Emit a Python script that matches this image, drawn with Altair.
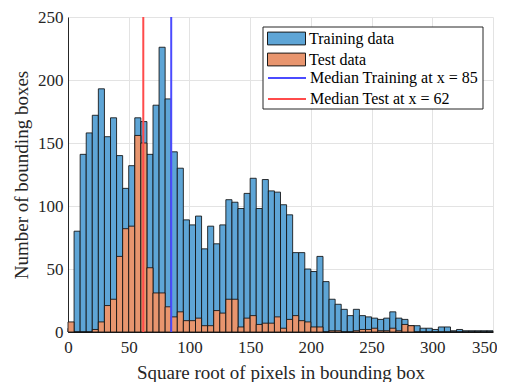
import altair as alt
import pandas as pd

bin_width = 5
train_counts = [3, 80, 141, 158, 172, 193, 155, 170, 140, 114,
                132, 170, 167, 141, 180, 226, 185, 143, 130, 89,
                85, 92, 66, 84, 70, 85, 105, 103, 98, 110,
                122, 98, 121, 112, 111, 101, 93, 63, 63, 50,
                48, 60, 40, 26, 22, 18, 13, 18, 13, 12,
                11, 10, 11, 16, 11, 10, 5, 5, 3, 3,
                2, 4, 4, 1, 2, 1, 1, 1, 1, 1]
test_counts = [8, 0, 0, 0, 2, 8, 21, 26, 60, 82,
               84, 156, 150, 51, 31, 31, 20, 12, 16, 9,
               9, 11, 5, 5, 17, 15, 26, 26, 4, 11,
               13, 6, 7, 7, 12, 3, 10, 13, 9, 8,
               4, 4, 0, 1, 1, 0, 0, 1, 2, 2,
               3, 1, 1, 3, 1, 6, 5, 0, 0, 0,
               0, 0, 0, 0, 0, 0, 0, 0, 0, 0]
series_names = ["Training data", "Test data"]
median_values = [85, 62]
median_names = ["Median Training at x = 85", "Median Test at x = 62"]
x_ticks = [0, 50, 100, 150, 200, 250, 300, 350]
y_ticks = [0, 50, 100, 150, 200, 250]

FONT = "Liberation Serif"
TXT = "#262626"

starts = [i * bin_width for i in range(len(train_counts))]
ends = [s + bin_width for s in starts]
train_df = pd.DataFrame({"start": starts, "end": ends, "count": train_counts,
                         "series": series_names[0]})
test_df = pd.DataFrame({"start": starts, "end": ends, "count": test_counts,
                        "series": series_names[1]})
med_df = pd.DataFrame({"x": median_values, "name": median_names})
box_df = pd.DataFrame({"k": [0]})

fill_scale = alt.Scale(domain=series_names, range=["#5EA5D6", "#E8956E"])
stroke_scale = alt.Scale(domain=median_names, range=["#4B4BFF", "#FF4B4B"])

x_scale = alt.Scale(domain=[0, 350], nice=False, zero=False, padding=0)
y_scale = alt.Scale(domain=[0, 250], nice=False, padding=0)

last_tick = "datum.value == %d" % x_ticks[-1]
x_axis = alt.Axis(values=x_ticks, title="Square root of pixels in bounding box",
                  grid=True, ticks=False, labelPadding=7, labelFlush=False,
                  labelAlign={"condition": {"test": last_tick, "value": "right"},
                              "value": "center"},
                  labelOffset={"condition": {"test": last_tick, "value": 4},
                               "value": 0},
                  titleY=46, titleBaseline="alphabetic",
                  labelFontSize=17, titleFontSize=19)
y_axis = alt.Axis(values=y_ticks, title="Number of bounding boxes",
                  grid=True, ticks=False, labelPadding=5, titlePadding=6,
                  labelFlush=False, labelFontSize=17, titleFontSize=19)

fill_legend = alt.Legend(title=None, orient="none", legendX=210, legendY=13,
                         symbolType="M-2.375,-0.8H2.375V0.8H-2.375Z", symbolSize=256,
                         symbolStrokeColor="#1a1a1a", symbolStrokeWidth=1,
                         labelFont=FONT, labelFontSize=16, labelColor="#000000",
                         labelOffset=14, labelLimit=0, rowPadding=4, padding=0)
stroke_legend = alt.Legend(title=None, orient="none", legendX=210, legendY=52,
                           symbolType="M-2.375,0H2.375", symbolSize=256,
                           symbolStrokeWidth=2,
                           labelFont=FONT, labelFontSize=16, labelColor="#000000",
                           labelOffset=14, labelLimit=0, rowPadding=4, padding=0)

bar_kw = dict(stroke="#111111", strokeWidth=1, strokeOpacity=0.85)

train_bars = alt.Chart(train_df).mark_bar(**bar_kw).encode(
    x=alt.X("start:Q", scale=x_scale, axis=x_axis),
    x2="end:Q",
    y=alt.Y("count:Q", scale=y_scale, axis=y_axis),
    y2=alt.datum(0),
    fill=alt.Fill("series:N", scale=fill_scale, legend=fill_legend),
)
test_bars = alt.Chart(test_df).mark_bar(**bar_kw).encode(
    x=alt.X("start:Q", scale=x_scale),
    x2="end:Q",
    y=alt.Y("count:Q", scale=y_scale),
    y2=alt.datum(0),
    fill=alt.Fill("series:N", scale=fill_scale, legend=fill_legend),
)
rules = alt.Chart(med_df).mark_rule(strokeWidth=2).encode(
    x=alt.X("x:Q", scale=x_scale),
    stroke=alt.Stroke("name:N", scale=stroke_scale, legend=stroke_legend),
)
box = alt.Chart(box_df).mark_rect(fill="white", stroke=TXT, strokeWidth=1).encode(
    x=alt.value(195), x2=alt.value(415), y=alt.value(10), y2=alt.value(92)
)

chart = alt.layer(train_bars, test_bars, rules, box).resolve_scale(
    fill="shared", stroke="shared"
).properties(
    width=425, height=315,
    autosize=alt.AutoSizeParams(type="none"),
    padding={"left": 60, "top": 9, "right": 4, "bottom": 50},
).configure_view(stroke=None).configure_axis(
    labelFont=FONT, titleFont=FONT, labelColor=TXT, titleColor=TXT,
    titleFontWeight="normal", domainColor=TXT, domainWidth=1,
    gridColor="#E3E3E3", gridWidth=1,
)

chart.save("out.html", embed_options={"renderer": "svg", "actions": False})
